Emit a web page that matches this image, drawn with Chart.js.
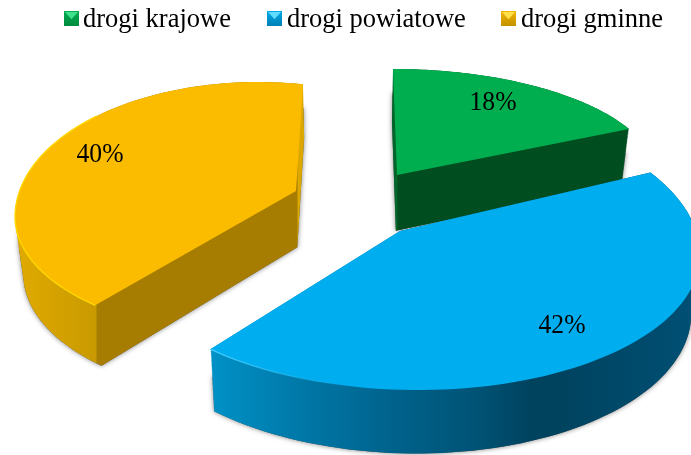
<!DOCTYPE html>
<html>
<head>
<meta charset="utf-8">
<style>html,body{margin:0;padding:0;background:#fff}canvas{display:block}</style>
<script src="https://cdn.jsdelivr.net/npm/chart.js@4"></script>
</head>
<body>
<canvas id="c" width="691" height="455"></canvas>
<script>
const categories = ['drogi krajowe', 'drogi powiatowe', 'drogi gminne'];
const shares = [18, 42, 40];
const topColors = ['#00ad4f', '#00aeef', '#fbbc00'];
const rotationDeg = -2;

// Perspective view of each exploded slice: where its apex lands and the ellipse its rim follows.
const sliceViews = [
  {apex:[397,175], cx:393, cy:179, rx:265, ryUp:110, ryDown:110, tilt:0, phase:-0.58, stretch:0.972,
   wall:[[392,'#00662a'],[397,'#00662a'],[398,'#004d20'],[640,'#004d20']], rim:null},
  {apex:[400,231], cx:410, cy:251, rx:290, ryUp:146, ryDown:139, tilt:1, phase:-4.36, stretch:1.108,
   wall:[[212,'#0091c6'],[300,'#0078a8'],[400,'#00618a'],[480,'#005274'],[530,'#00435f'],[560,'#00435f'],[691,'#004f74']],
   rim:[[211,'#45ccff'],[340,'rgba(69,204,255,0)']]},
  {apex:[296,191], cx:258, cy:217, rx:243, ryUp:135, ryDown:119, tilt:0, phase:4.1, stretch:1.032,
   wall:[[15,'#e0aa00'],[96,'#c99a00'],[97,'#a67d00'],[297,'#a67d00'],[298,'#dca800'],[306,'#dca800']],
   rim:[[15,'#ffd800'],[96,'#ffd800'],[97,'rgba(255,216,0,0)']]}
];
const drawOrder = [2, 0, 1];
const labelAnchors = [[493,110],[562,333],[100,162]];
const legendLayout = [{box:64,text:83},{box:267,text:287},{box:501,text:521}];
const markerStyles = [
  {light:'#3fe08a',base:'#00ad4f',dark:'#008a3e'},
  {light:'#5fdcff',base:'#00a8e6',dark:'#0080b4'},
  {light:'#ffe14a',base:'#f2b400',dark:'#c29200'}
];

function rimPoint(v, theta){
  const phi = (v.phase + v.stretch*theta*180/Math.PI)*Math.PI/180;
  const t = v.tilt*Math.PI/180, s = Math.sin(phi);
  const x0 = v.rx*Math.cos(phi), y0 = (s>0?v.ryDown:v.ryUp)*s;
  return [v.cx + x0*Math.cos(t) - y0*Math.sin(t), v.cy + x0*Math.sin(t) + y0*Math.cos(t)];
}
function extrude(p, k){
  const dx = 0.025*(350-p[0]), dy = 53 + 0.036*(p[1]-82);
  return [p[0]+dx*k, p[1]+dy*k];
}
function addSlice(path, arc, v, k){
  let q = extrude(v.apex, k);
  path.moveTo(q[0], q[1]);
  for(let i=0;i<=80;i++){
    const th = arc.startAngle + (arc.endAngle-arc.startAngle)*i/80;
    q = extrude(rimPoint(v, th), k);
    path.lineTo(q[0], q[1]);
  }
  path.closePath();
}
function hGrad(ctx, stops){
  const x0 = stops[0][0], x1 = stops[stops.length-1][0];
  const g = ctx.createLinearGradient(x0,0,x1,0);
  stops.forEach(s => g.addColorStop((s[0]-x0)/(x1-x0), s[1]));
  return g;
}

const pie3d = {
  id:'pie3d',
  beforeDatasetsDraw(chart){
    const ctx = chart.ctx, arcs = chart.getDatasetMeta(0).data;
    drawOrder.forEach(i => {
      const v = sliceViews[i], arc = arcs[i];
      // soft shadow under the lower part of the block
      const sh = new Path2D();
      for(let k=0.45;k<=1.001;k+=0.02) addSlice(sh, arc, v, k);
      ctx.save();
      ctx.shadowColor='rgba(0,0,0,0.5)'; ctx.shadowBlur=5;
      ctx.fillStyle='#555'; ctx.fill(sh);
      ctx.restore();
      // side walls
      const wall = new Path2D();
      for(let k=0;k<=1.001;k+=0.015) addSlice(wall, arc, v, k);
      ctx.fillStyle = hGrad(ctx, v.wall);
      ctx.fill(wall);
      // top face
      const top = new Path2D();
      addSlice(top, arc, v, 0);
      ctx.fillStyle = topColors[i];
      ctx.fill(top);
      if(v.rim){
        const rim = new Path2D();
        for(let j=0;j<=80;j++){
          const p = rimPoint(v, arc.startAngle+(arc.endAngle-arc.startAngle)*j/80);
          j?rim.lineTo(p[0],p[1]):rim.moveTo(p[0],p[1]);
        }
        ctx.strokeStyle = hGrad(ctx, v.rim);
        ctx.lineWidth = 1.3;
        ctx.stroke(rim);
      }
    });
    return false;
  },
  afterDraw(chart){
    const ctx = chart.ctx, total = shares.reduce((a,b)=>a+b,0);
    ctx.save();
    ctx.fillStyle='#000';
    ctx.textAlign='center'; ctx.textBaseline='alphabetic';
    ctx.font='26.5px "Liberation Serif"';
    shares.forEach((s,i)=>ctx.fillText(Math.round(s/total*100)+'%', labelAnchors[i][0], labelAnchors[i][1], 47));
    ctx.textAlign='left';
    categories.forEach((c,i)=>{
      const L = legendLayout[i], m = markerStyles[i], x=L.box, y=11, s=15;
      const g = ctx.createLinearGradient(0,y,0,y+s);
      g.addColorStop(0,m.base); g.addColorStop(1,m.dark);
      ctx.fillStyle=g; ctx.fillRect(x,y,s,s);
      ctx.fillStyle=m.light;
      ctx.beginPath(); ctx.moveTo(x+1,y+1); ctx.lineTo(x+s-1,y+1); ctx.lineTo(x+s/2,y+s*0.55); ctx.closePath(); ctx.fill();
      ctx.fillStyle='#000';
      ctx.fillText(c, L.text, 27);
    });
    ctx.restore();
  }
};

new Chart(document.getElementById('c'), {
  type:'pie',
  data:{labels:categories, datasets:[{data:shares, backgroundColor:topColors, borderWidth:0}]},
  options:{
    responsive:false, animation:false, rotation:rotationDeg,
    plugins:{legend:{display:false}, tooltip:{enabled:false}}
  },
  plugins:[pie3d]
});
</script>
</body>
</html>
